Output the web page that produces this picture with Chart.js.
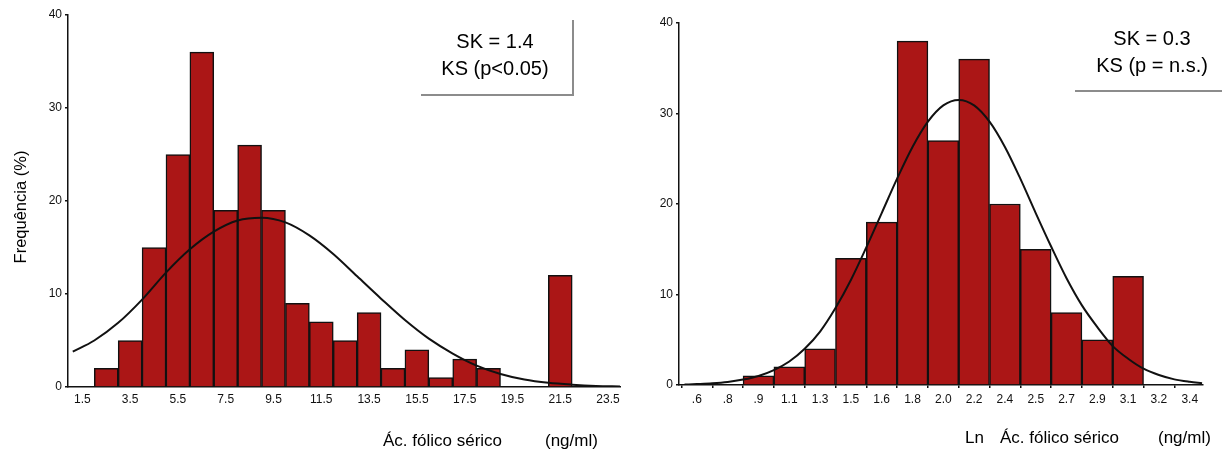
<!DOCTYPE html>
<html>
<head>
<meta charset="utf-8">
<script src="https://cdn.jsdelivr.net/npm/chart.js@4.4.0/dist/chart.umd.min.js"></script>
<style>
  html, body { margin: 0; padding: 0; background: #fff; }
  body { width: 1222px; height: 454px; position: relative; overflow: hidden;
         font-family: "Liberation Sans", Arial, sans-serif; color: #000; }
  .plot { position: absolute; top: 0; }
  .lbl { position: absolute; white-space: pre; font-size: 17px; line-height: 17px; }
  .stat { position: absolute; text-align: center; font-size: 20px; line-height: 26.6px; white-space: pre; }
  .rule { position: absolute; background: #8c8c8c; }
  #ytitle { left: -40px; top: 198px; width: 120px; height: 18px; line-height: 18px;
            font-size: 16.5px; text-align: center; transform: rotate(-90deg); }
</style>
</head>
<body>

<canvas class="plot" id="foliChart" width="640" height="454" style="left:0"></canvas>
<canvas class="plot" id="lnChart" width="582" height="454" style="left:640px"></canvas>

<div class="lbl" id="ytitle">Frequência (%)</div>

<div class="lbl" style="left:383px; top:432px;">Ác. fólico sérico</div>
<div class="lbl" style="left:545px; top:432px;">(ng/ml)</div>

<div class="lbl" style="left:965px; top:429px;">Ln</div>
<div class="lbl" style="left:1000px; top:429px;">Ác. fólico sérico</div>
<div class="lbl" style="left:1158px; top:429px;">(ng/ml)</div>

<!-- stat boxes -->
<div class="stat" style="left:420px; width:150px; top:28px;">SK = 1.4
KS (p&lt;0.05)</div>
<div class="rule" style="left:572px; top:20px; width:1.5px; height:76px;"></div>
<div class="rule" style="left:421px; top:94px; width:153px; height:1.5px;"></div>

<div class="stat" style="left:1077px; width:150px; top:25px;">SK = 0.3
KS (p = n.s.)</div>
<div class="rule" style="left:1075px; top:90px; width:147px; height:1.5px;"></div>

<script>
// ---- serum folate (ng/ml), 1-unit bins ----
const FOLATO_TICKS = [1.5, 3.5, 5.5, 7.5, 9.5, 11.5, 13.5, 15.5, 17.5, 19.5, 21.5, 23.5];
const FOLATO_BINS  = [2.5, 3.5, 4.5, 5.5, 6.5, 7.5, 8.5, 9.5, 10.5, 11.5, 12.5, 13.5, 14.5, 15.5, 16.5, 17.5, 18.5, 19.5, 20.5, 21.5, 22.5];
const FOLATO_FREQ  = [2, 5, 15, 25, 36, 19, 26, 19, 9, 7, 5, 8, 2, 4, 1, 3, 2, 0, 0, 12, 0];
const FOLATO_CURVE_X = [1.1, 2, 3, 4, 5, 6, 7, 8, 9, 10, 11, 12, 13, 14, 15, 16, 17, 18, 19, 20, 21, 22, 23, 24];
const FOLATO_CURVE_Y = [3.8, 5.0, 6.9, 9.4, 12.3, 14.8, 16.7, 17.9, 18.2, 17.7, 16.3, 14.3, 11.9, 9.5, 7.2, 5.2, 3.6, 2.3, 1.4, 0.8, 0.45, 0.25, 0.12, 0.06];

// ---- Ln serum folate ----
const LN_TICKS = ['.6', '.8', '.9', '1.1', '1.3', '1.5', '1.6', '1.8', '2.0', '2.2', '2.4', '2.5', '2.7', '2.9', '3.1', '3.2', '3.4'];
const LN_BARS  = ['.9', '1.1', '1.3', '1.5', '1.6', '1.8', '2.0', '2.2', '2.4', '2.5', '2.7', '2.9', '3.1'];
const LN_FREQ  = [1, 2, 4, 14, 18, 38, 27, 36, 20, 15, 8, 5, 12];
// curve position in tick steps (0 = ".6")
const LN_CURVE_X = [-0.4, 0, 0.5, 1, 1.5, 2, 2.5, 3, 3.5, 4, 4.5, 5, 5.5, 6, 6.5, 7, 7.5, 8, 8.5, 9, 9.5, 10, 10.5, 11, 11.5, 12, 12.5, 13, 13.5, 14, 14.5, 15, 15.5, 16, 16.4];
const LN_CURVE_Y = [0.05, 0.1, 0.18, 0.33, 0.6, 1.0, 1.65, 2.6, 4.0, 5.9, 8.5, 11.6, 15.2, 19.0, 22.8, 26.3, 29.1, 30.9, 31.5, 30.9, 29.1, 26.3, 22.8, 19.0, 15.3, 11.8, 8.8, 6.4, 4.3, 2.9, 1.8, 1.1, 0.62, 0.35, 0.2];

const Y_TICKS = [0, 10, 20, 30, 40];

const BAR_RED = '#ab1616';
const INK = '#111';

function yAxis(width) {
  return {
    min: 0, max: 40,
    afterBuildTicks: s => { s.ticks = Y_TICKS.map(v => ({ value: v })); },
    ticks: { color: INK, font: { size: 12 }, padding: 3 },
    grid: { drawOnChartArea: false, drawTicks: true, tickLength: 3, color: INK, lineWidth: 1.5 },
    border: { color: INK, width: 1.5 },
    afterFit: s => { s.width = width; }
  };
}

function curveSet(xs, ys) {
  return {
    type: 'line',
    order: 0,
    data: xs.map((x, i) => ({ x: x, y: ys[i] })),
    borderColor: INK,
    borderWidth: 2,
    pointRadius: 0,
    cubicInterpolationMode: 'monotone',
    fill: false
  };
}

function barSet(points) {
  return {
    type: 'bar',
    order: 1,
    data: points,
    backgroundColor: BAR_RED,
    borderColor: INK,
    borderWidth: 1.5,
    barPercentage: 1,
    categoryPercentage: 1
  };
}

const common = {
  responsive: false,
  animation: false,
  events: [],
  plugins: { legend: { display: false }, tooltip: { enabled: false } }
};

// Left: raw values
new Chart(document.getElementById('foliChart'), {
  type: 'bar',
  data: {
    datasets: [
      curveSet(FOLATO_CURVE_X, FOLATO_CURVE_Y),
      barSet(FOLATO_BINS.map((x, i) => ({ x: x, y: FOLATO_FREQ[i] })))
    ]
  },
  options: {
    ...common,
    layout: { padding: { left: 0, right: 20, top: 15, bottom: 0 } },
    scales: {
      x: {
        type: 'linear', min: 0.9, max: 24, offset: false,
        afterBuildTicks: s => { s.ticks = FOLATO_TICKS.map(v => ({ value: v })); },
        ticks: { autoSkip: false, maxRotation: 0, color: INK, font: { size: 12 }, padding: 5,
                 callback: v => v.toFixed(1) },
        grid: { display: false, drawTicks: false },
        border: { color: INK, width: 1.5 },
        afterFit: s => { s.height = 67; }
      },
      y: yAxis(68)
    }
  }
});

// Right: log-transformed values
new Chart(document.getElementById('lnChart'), {
  type: 'bar',
  data: {
    datasets: [
      curveSet(LN_CURVE_X, LN_CURVE_Y),
      barSet(LN_BARS.map((lab, i) => ({ x: LN_TICKS.indexOf(lab), y: LN_FREQ[i] })))
    ]
  },
  options: {
    ...common,
    layout: { padding: { left: 0, right: 19, top: 23, bottom: 0 } },
    scales: {
      x: {
        type: 'linear', min: -0.58, max: 16.43, offset: false,
        afterBuildTicks: s => { s.ticks = LN_TICKS.map((t, i) => ({ value: i })); },
        ticks: { autoSkip: false, maxRotation: 0, color: INK, font: { size: 12 }, padding: 4,
                 callback: v => LN_TICKS[v] },
        grid: { drawOnChartArea: false, drawTicks: true, tickLength: 3, color: INK, lineWidth: 1.5 },
        border: { color: INK, width: 1.5 },
        afterFit: s => { s.height = 69; }
      },
      y: yAxis(39)
    }
  }
});
</script>
</body>
</html>
